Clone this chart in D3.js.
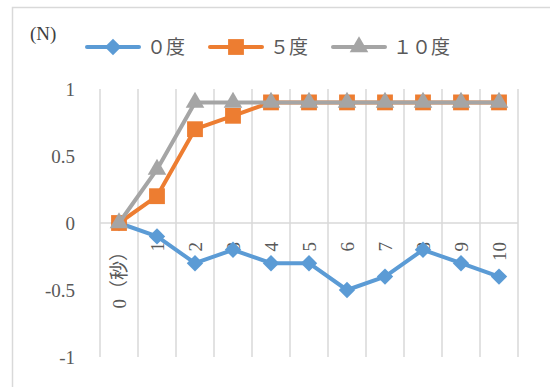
<!DOCTYPE html>
<html>
<head>
<meta charset="utf-8">
<script src="https://cdn.jsdelivr.net/npm/d3@7"></script>
<style>
  body { margin: 0; background: #fff; }
  svg { display: block; }
</style>
</head>
<body>
<div id="container"></div>
<script>
const categories = ["0（秒）", "1", "2", "3", "4", "5", "6", "7", "8", "9", "10"];
const series0 = [0, -0.1, -0.3, -0.2, -0.3, -0.3, -0.5, -0.4, -0.2, -0.3, -0.4];
const series5 = [0, 0.2, 0.7, 0.8, 0.9, 0.9, 0.9, 0.9, 0.9, 0.9, 0.9];
const series10 = [0, 0.4, 0.9, 0.9, 0.9, 0.9, 0.9, 0.9, 0.9, 0.9, 0.9];
const seriesNames = ["０度", "５度", "１０度"];
const yTicks = [-1, -0.5, 0, 0.5, 1];

const font = "'Liberation Serif', 'Times New Roman', 'DejaVu Serif', 'Noto Sans CJK JP', serif";
const textColor = "#595959";
const gridColor = "#d9d9d9";

const series = [
  { name: seriesNames[0], values: series0, color: "#5B9BD5", marker: d3.symbolSquare, size: 135, rotate: 45 },
  { name: seriesNames[1], values: series5, color: "#ED7D31", marker: d3.symbolSquare, size: 250, rotate: 0 },
  { name: seriesNames[2], values: series10, color: "#A5A5A5", marker: d3.symbolTriangle, size: 150, rotate: 0 }
];

const svg = d3.select("#container")
  .append("svg")
  .attr("width", 550)
  .attr("height", 387);

// chart frame
svg.append("rect")
  .attr("x", 12.5)
  .attr("y", 7.5)
  .attr("width", 600)
  .attr("height", 420)
  .attr("fill", "white")
  .attr("stroke", gridColor)
  .attr("stroke-width", 1.5);

// Scales
const x = d3.scaleBand()
  .domain(categories)
  .range([100, 518]);

const y = d3.scaleLinear()
  .domain([-1, 1])
  .range([357, 89]);

// vertical gridlines at band edges
const edges = categories.map(c => x(c)).concat([x.range()[1]]);
svg.append("g")
  .selectAll("line")
  .data(edges)
  .enter()
  .append("line")
  .attr("x1", d => d)
  .attr("x2", d => d)
  .attr("y1", y(1))
  .attr("y2", y(-1))
  .attr("stroke", gridColor)
  .attr("stroke-width", 1.5);

// category axis line at 0
svg.append("line")
  .attr("x1", x.range()[0])
  .attr("x2", x.range()[1])
  .attr("y1", y(0))
  .attr("y2", y(0))
  .attr("stroke", gridColor)
  .attr("stroke-width", 1.5);

// Y axis
const yAxis = svg.append("g")
  .attr("transform", "translate(100,0)")
  .call(d3.axisLeft(y).tickValues(yTicks).tickSize(0).tickPadding(25).tickFormat(d => String(d)));
yAxis.attr("font-family", null).attr("font-size", null);
yAxis.select(".domain").remove();
yAxis.selectAll("text")
  .attr("fill", textColor)
  .style("font-family", font)
  .style("font-size", "19px");

// category labels, rotated
svg.append("g")
  .selectAll("text")
  .data(categories)
  .enter()
  .append("text")
  .attr("transform", d => `translate(${x(d) + x.bandwidth() / 2},242) rotate(-90)`)
  .attr("text-anchor", "end")
  .attr("dy", "0.35em")
  .attr("fill", textColor)
  .style("font-family", font)
  .style("font-size", "19px")
  .text(d => d);

// lines and markers
const line = d3.line()
  .x((d, i) => x(categories[i]) + x.bandwidth() / 2)
  .y(d => y(d));

series.forEach(s => {
  svg.append("path")
    .datum(s.values)
    .attr("fill", "none")
    .attr("stroke", s.color)
    .attr("stroke-width", 4)
    .attr("stroke-linejoin", "round")
    .attr("d", line);

  svg.append("g")
    .selectAll("path")
    .data(s.values)
    .enter()
    .append("path")
    .attr("transform", (d, i) => `translate(${x(categories[i]) + x.bandwidth() / 2},${y(d)}) rotate(${s.rotate})`)
    .attr("d", d3.symbol().type(s.marker).size(s.size))
    .attr("fill", s.color);
});

// unit label
svg.append("text")
  .attr("x", 30)
  .attr("y", 40)
  .attr("fill", "#404040")
  .style("font-family", font)
  .style("font-size", "19px")
  .text("(N)");

// Legend
const legendX = [87, 210, 333];
const legend = svg.append("g");
series.forEach((s, i) => {
  const g = legend.append("g").attr("transform", `translate(${legendX[i]},47)`);
  g.append("line")
    .attr("x1", 0)
    .attr("x2", 52)
    .attr("stroke", s.color)
    .attr("stroke-width", 4)
    .attr("stroke-linecap", "round");
  g.append("path")
    .attr("transform", `translate(26,0) rotate(${s.rotate})`)
    .attr("d", d3.symbol().type(s.marker).size(s.size))
    .attr("fill", s.color);
  g.append("text")
    .attr("x", 60)
    .attr("y", 7)
    .attr("fill", textColor)
    .style("font-family", font)
    .style("font-size", "19px")
    .text(s.name);
});
</script>
</body>
</html>
